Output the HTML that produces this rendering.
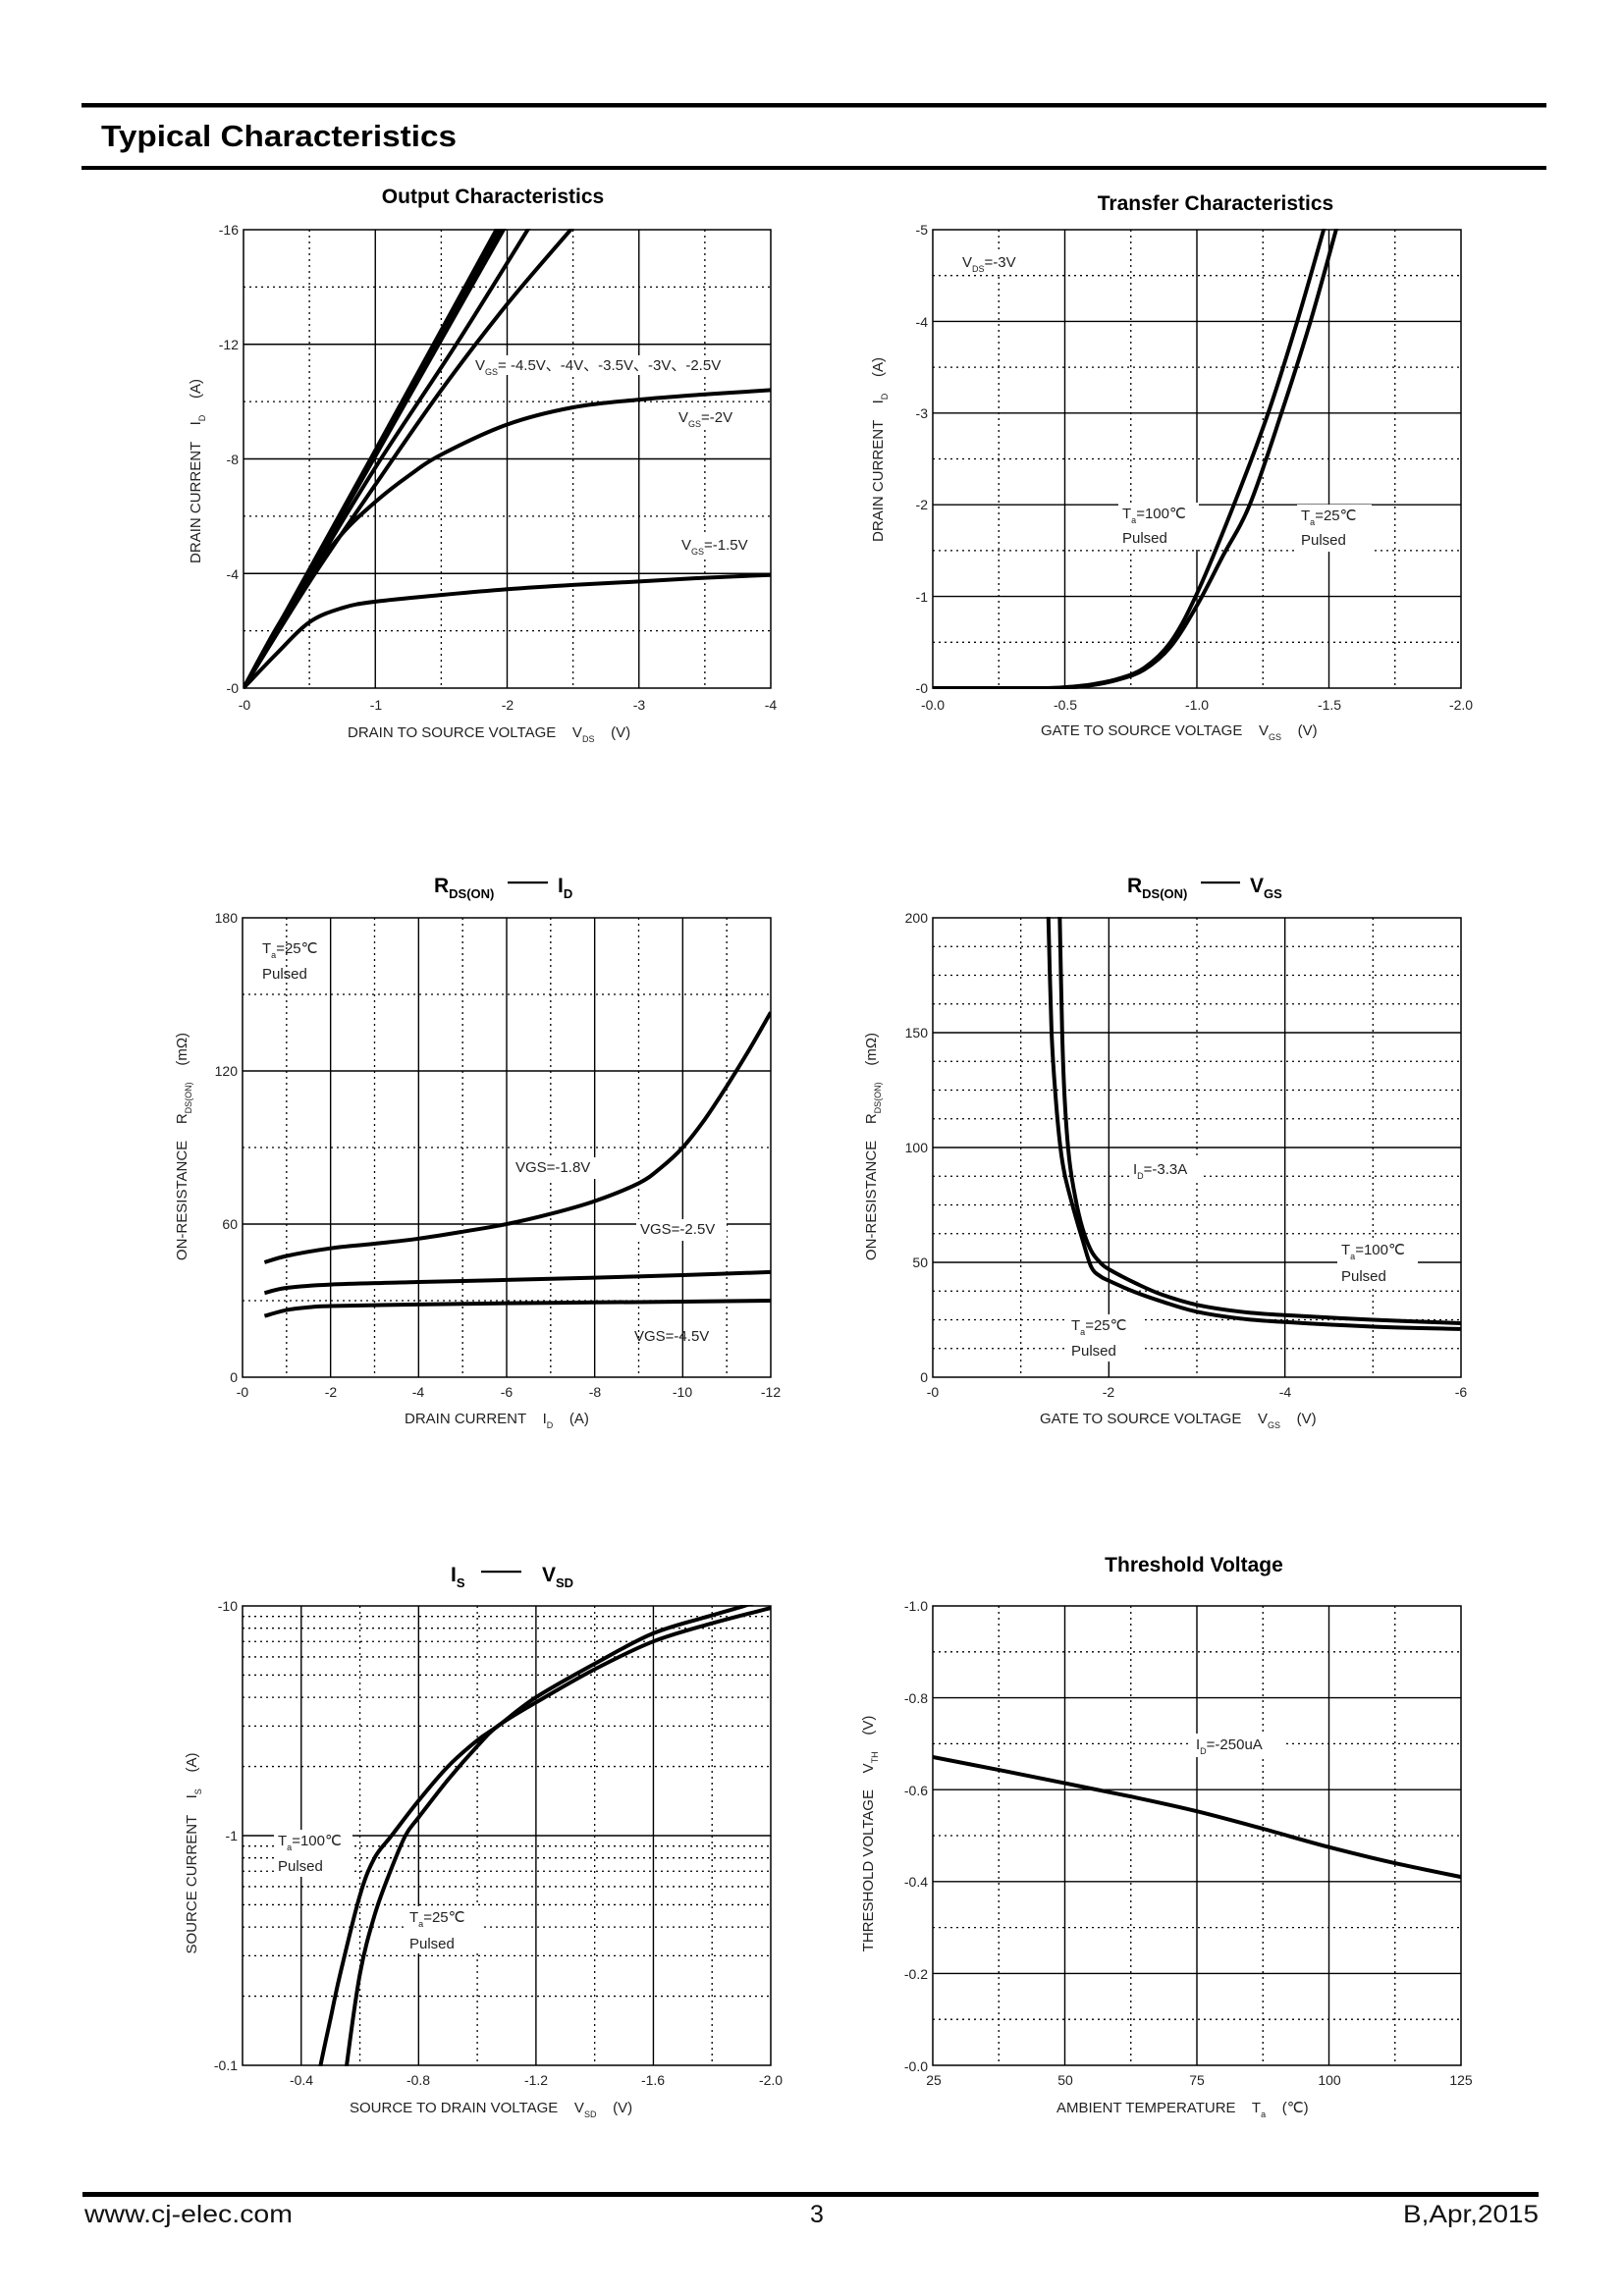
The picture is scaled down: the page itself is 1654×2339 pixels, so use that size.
<!DOCTYPE html>
<html><head><meta charset="utf-8"><style>
html,body{margin:0;padding:0;background:#fff}
svg{display:block}
text{font-family:"Liberation Sans",Arial,sans-serif;fill:#222}
.t{font-size:14px}
.ax{font-size:15px}
.lb{font-size:15px}
.ti{font-size:21px;font-weight:bold;fill:#000}
.sb{font-size:9px}
</style></head><body>
<svg id="s" width="1654" height="2339" viewBox="0 0 1654 2339" xmlns="http://www.w3.org/2000/svg">
<rect width="1654" height="2339" fill="#fff"/>
<rect x="83" y="105" width="1492" height="4.5" fill="#000"/>
<rect x="83" y="169" width="1492" height="4" fill="#000"/>
<text x="103" y="149" style="font-size:31px;font-weight:bold;fill:#000" textLength="362" lengthAdjust="spacingAndGlyphs">Typical Characteristics</text>
<rect x="84" y="2233" width="1483" height="5" fill="#000"/>
<text x="86" y="2264" style="font-size:25px;fill:#111" textLength="212" lengthAdjust="spacingAndGlyphs">www.cj-elec.com</text>
<text x="832" y="2264" style="font-size:25px;fill:#111" text-anchor="middle">3</text>
<text x="1567" y="2264" style="font-size:25px;fill:#111" text-anchor="end" textLength="138" lengthAdjust="spacingAndGlyphs">B,Apr,2015</text>

<g id="grids"></g>
<g id="curves"></g>

<!-- Chart 1 -->
<text class="ti" x="502" y="207" text-anchor="middle">Output Characteristics</text>
<g class="t" text-anchor="end">
<text x="243" y="239">-16</text><text x="243" y="356">-12</text><text x="243" y="473">-8</text><text x="243" y="590">-4</text><text x="243" y="706">-0</text></g>
<g class="t" text-anchor="middle">
<text x="249" y="723">-0</text><text x="383" y="723">-1</text><text x="517" y="723">-2</text><text x="651" y="723">-3</text><text x="785" y="723">-4</text></g>
<text class="ax" x="354" y="751" xml:space="preserve">DRAIN TO SOURCE VOLTAGE    V<tspan class="sb" dy="5">DS</tspan><tspan dy="-5">    (V)</tspan></text>
<text class="ax" transform="rotate(-90 204 480)" x="204" y="480" text-anchor="middle" xml:space="preserve">DRAIN CURRENT    I<tspan class="sb" dy="5">D</tspan><tspan dy="-5">    (A)</tspan></text>
<rect x="480" y="362" width="300" height="20" fill="#fff"/>
<text class="lb" x="484" y="377" xml:space="preserve">V<tspan class="sb" dy="5">GS</tspan><tspan dy="-5">= -4.5V、-4V、-3.5V、-3V、-2.5V</tspan></text>
<rect x="688" y="415" width="72" height="22" fill="#fff"/>
<text class="lb" x="691" y="430">V<tspan class="sb" dy="5">GS</tspan><tspan dy="-5">=-2V</tspan></text>
<rect x="690" y="545" width="86" height="22" fill="#fff"/>
<text class="lb" x="694" y="560">V<tspan class="sb" dy="5">GS</tspan><tspan dy="-5">=-1.5V</tspan></text>

<!-- Chart 2 -->
<text class="ti" x="1238" y="214" text-anchor="middle">Transfer Characteristics</text>
<g class="t" text-anchor="end">
<text x="945" y="239">-5</text><text x="945" y="333">-4</text><text x="945" y="426">-3</text><text x="945" y="519">-2</text><text x="945" y="613">-1</text><text x="945" y="706">-0</text></g>
<g class="t" text-anchor="middle">
<text x="950" y="723">-0.0</text><text x="1085" y="723">-0.5</text><text x="1219" y="723">-1.0</text><text x="1354" y="723">-1.5</text><text x="1488" y="723">-2.0</text></g>
<text class="ax" x="1060" y="749" xml:space="preserve">GATE TO SOURCE VOLTAGE    V<tspan class="sb" dy="5">GS</tspan><tspan dy="-5">    (V)</tspan></text>
<text class="ax" transform="rotate(-90 899 458)" x="899" y="458" text-anchor="middle" xml:space="preserve">DRAIN CURRENT    I<tspan class="sb" dy="5">D</tspan><tspan dy="-5">    (A)</tspan></text>
<rect x="976" y="256" width="66" height="24" fill="#fff"/>
<text class="lb" x="980" y="272">V<tspan class="sb" dy="5">DS</tspan><tspan dy="-5">=-3V</tspan></text>
<rect x="1139" y="512" width="82" height="48" fill="#fff"/>
<text class="lb" x="1143" y="528">T<tspan class="sb" dy="5">a</tspan><tspan dy="-5">=100℃</tspan></text>
<text class="lb" x="1143" y="553">Pulsed</text>
<rect x="1321" y="514" width="76" height="48" fill="#fff"/>
<text class="lb" x="1325" y="530">T<tspan class="sb" dy="5">a</tspan><tspan dy="-5">=25℃</tspan></text>
<text class="lb" x="1325" y="555">Pulsed</text>

<!-- Chart 3 -->
<text class="ti" x="442" y="909">R<tspan style="font-size:13px" dy="6">DS(ON)</tspan></text>
<rect x="517" y="898" width="41" height="2.2" fill="#000"/>
<text class="ti" x="568" y="909">I<tspan style="font-size:13px" dy="6">D</tspan></text>
<g class="t" text-anchor="end">
<text x="242" y="940">180</text><text x="242" y="1096">120</text><text x="242" y="1252">60</text><text x="242" y="1408">0</text></g>
<g class="t" text-anchor="middle">
<text x="247" y="1423">-0</text><text x="337" y="1423">-2</text><text x="426" y="1423">-4</text><text x="516" y="1423">-6</text><text x="606" y="1423">-8</text><text x="695" y="1423">-10</text><text x="785" y="1423">-12</text></g>
<text class="ax" x="412" y="1450" xml:space="preserve">DRAIN CURRENT    I<tspan class="sb" dy="5">D</tspan><tspan dy="-5">    (A)</tspan></text>
<text class="ax" transform="rotate(-90 190 1168)" x="190" y="1168" text-anchor="middle" xml:space="preserve">ON-RESISTANCE    R<tspan class="sb" dy="5">DS(ON)</tspan><tspan dy="-5">    (mΩ)</tspan></text>
<text class="lb" x="267" y="971">T<tspan class="sb" dy="5">a</tspan><tspan dy="-5">=25℃</tspan></text>
<text class="lb" x="267" y="997">Pulsed</text>
<rect x="521" y="1179" width="92" height="22" fill="#fff"/>
<text class="lb" x="525" y="1194">VGS=-1.8V</text>
<rect x="648" y="1242" width="92" height="22" fill="#fff"/>
<text class="lb" x="652" y="1257">VGS=-2.5V</text>
<text class="lb" x="646" y="1366">VGS=-4.5V</text>

<!-- Chart 4 -->
<text class="ti" x="1148" y="909">R<tspan style="font-size:13px" dy="6">DS(ON)</tspan></text>
<rect x="1223" y="898" width="40" height="2.2" fill="#000"/>
<text class="ti" x="1273" y="909">V<tspan style="font-size:13px" dy="6">GS</tspan></text>
<g class="t" text-anchor="end">
<text x="945" y="940">200</text><text x="945" y="1057">150</text><text x="945" y="1174">100</text><text x="945" y="1291">50</text><text x="945" y="1408">0</text></g>
<g class="t" text-anchor="middle">
<text x="950" y="1423">-0</text><text x="1129" y="1423">-2</text><text x="1309" y="1423">-4</text><text x="1488" y="1423">-6</text></g>
<text class="ax" x="1059" y="1450" xml:space="preserve">GATE TO SOURCE VOLTAGE    V<tspan class="sb" dy="5">GS</tspan><tspan dy="-5">    (V)</tspan></text>
<text class="ax" transform="rotate(-90 892 1168)" x="892" y="1168" text-anchor="middle" xml:space="preserve">ON-RESISTANCE    R<tspan class="sb" dy="5">DS(ON)</tspan><tspan dy="-5">    (mΩ)</tspan></text>
<rect x="1150" y="1180" width="76" height="24" fill="#fff"/>
<text class="lb" x="1154" y="1196">I<tspan class="sb" dy="5">D</tspan><tspan dy="-5">=-3.3A</tspan></text>
<rect x="1362" y="1262" width="82" height="50" fill="#fff"/>
<text class="lb" x="1366" y="1278">T<tspan class="sb" dy="5">a</tspan><tspan dy="-5">=100℃</tspan></text>
<text class="lb" x="1366" y="1305">Pulsed</text>
<rect x="1087" y="1339" width="76" height="48" fill="#fff"/>
<text class="lb" x="1091" y="1355">T<tspan class="sb" dy="5">a</tspan><tspan dy="-5">=25℃</tspan></text>
<text class="lb" x="1091" y="1381">Pulsed</text>

<!-- Chart 5 -->
<text class="ti" x="459" y="1611">I<tspan style="font-size:13px" dy="6">S</tspan></text>
<rect x="490" y="1600" width="41" height="2.2" fill="#000"/>
<text class="ti" x="552" y="1611">V<tspan style="font-size:13px" dy="6">SD</tspan></text>
<g class="t" text-anchor="end">
<text x="242" y="1641">-10</text><text x="242" y="1875">-1</text><text x="242" y="2109">-0.1</text></g>
<g class="t" text-anchor="middle">
<text x="307" y="2124">-0.4</text><text x="426" y="2124">-0.8</text><text x="546" y="2124">-1.2</text><text x="665" y="2124">-1.6</text><text x="785" y="2124">-2.0</text></g>
<text class="ax" x="356" y="2152" xml:space="preserve">SOURCE TO DRAIN VOLTAGE    V<tspan class="sb" dy="5">SD</tspan><tspan dy="-5">    (V)</tspan></text>
<text class="ax" transform="rotate(-90 200 1888)" x="200" y="1888" text-anchor="middle" xml:space="preserve">SOURCE CURRENT    I<tspan class="sb" dy="5">S</tspan><tspan dy="-5">    (A)</tspan></text>
<rect x="279" y="1864" width="80" height="48" fill="#fff"/>
<text class="lb" x="283" y="1880">T<tspan class="sb" dy="5">a</tspan><tspan dy="-5">=100℃</tspan></text>
<text class="lb" x="283" y="1906">Pulsed</text>
<rect x="413" y="1942" width="76" height="48" fill="#fff"/>
<text class="lb" x="417" y="1958">T<tspan class="sb" dy="5">a</tspan><tspan dy="-5">=25℃</tspan></text>
<text class="lb" x="417" y="1985">Pulsed</text>

<!-- Chart 6 -->
<text class="ti" x="1216" y="1601" text-anchor="middle">Threshold Voltage</text>
<g class="t" text-anchor="end">
<text x="945" y="1641">-1.0</text><text x="945" y="1735">-0.8</text><text x="945" y="1829">-0.6</text><text x="945" y="1922">-0.4</text><text x="945" y="2016">-0.2</text><text x="945" y="2110">-0.0</text></g>
<g class="t" text-anchor="middle">
<text x="951" y="2124">25</text><text x="1085" y="2124">50</text><text x="1219" y="2124">75</text><text x="1354" y="2124">100</text><text x="1488" y="2124">125</text></g>
<text class="ax" x="1076" y="2152" xml:space="preserve">AMBIENT TEMPERATURE    T<tspan class="sb" dy="5">a</tspan><tspan dy="-5">    (℃)</tspan></text>
<text class="ax" transform="rotate(-90 889 1868)" x="889" y="1868" text-anchor="middle" xml:space="preserve">THRESHOLD VOLTAGE    V<tspan class="sb" dy="5">TH</tspan><tspan dy="-5">    (V)</tspan></text>
<rect x="1214" y="1766" width="92" height="24" fill="#fff"/>
<text class="lb" x="1218" y="1782">I<tspan class="sb" dy="5">D</tspan><tspan dy="-5">=-250uA</tspan></text>
</svg>
<script>
(function(){
var NS="http://www.w3.org/2000/svg";
var G=document.getElementById("grids"),C=document.getElementById("curves");
function el(p,tag,a){var e=document.createElementNS(NS,tag);for(var k in a)e.setAttribute(k,a[k]);p.appendChild(e);return e;}
function line(x1,y1,x2,y2,dot){el(G,"line",{x1:x1,y1:y1,x2:x2,y2:y2,stroke:"#000","stroke-width":dot?1.3:1.4,"stroke-dasharray":dot?"2,4":"none"});}
function plot(o){
 o.xs.forEach(function(a){var x=o.l+(o.r-o.l)*a[0];line(x,o.t,x,o.b,a[1]);});
 o.ys.forEach(function(a){var y=o.b-(o.b-o.t)*a[0];line(o.l,y,o.r,y,a[1]);});
 el(G,"rect",{x:o.l,y:o.t,width:o.r-o.l,height:o.b-o.t,fill:"none",stroke:"#000","stroke-width":1.5});
}
function reg(n,dotOdd){var a=[];for(var i=1;i<n;i++)a.push([i/n,dotOdd?(i%2==1):false]);return a;}
function path(pts,fx,fy,clip){
 var P=pts.map(function(p){return [fx(p[0]),fy(p[1])];});
 var d="M"+P[0][0]+","+P[0][1];
 for(var i=0;i<P.length-1;i++){
  var p0=P[i-1]||P[i],p1=P[i],p2=P[i+1],p3=P[i+2]||p2;
  var c1=[p1[0]+(p2[0]-p0[0])/6,p1[1]+(p2[1]-p0[1])/6],c2=[p2[0]-(p3[0]-p1[0])/6,p2[1]-(p3[1]-p1[1])/6];
  d+="C"+c1[0].toFixed(1)+","+c1[1].toFixed(1)+" "+c2[0].toFixed(1)+","+c2[1].toFixed(1)+" "+p2[0].toFixed(1)+","+p2[1].toFixed(1);
 }
 el(C,"path",{d:d,fill:"none",stroke:"#000","stroke-width":4,"stroke-linejoin":"round","clip-path":clip});
}
var defs=el(document.getElementById("s"),"defs",{});
function clip(id,l,t,r,b){var c=el(defs,"clipPath",{id:id});el(c,"rect",{x:l,y:t-1,width:r-l,height:b-t+2});return "url(#"+id+")";}

var L=248,R=785,T=234,B=701;
plot({l:L,r:R,t:T,b:B,xs:reg(8,true),ys:reg(8,true)});
var c1=clip("c1",L,T,R,B);
var fx=function(v){return L+v*(R-L)/4},fy=function(i){return B-i*(B-T)/16};
[[[0,0],[0.25,1.2],[0.5,2.3],[0.75,2.8],[1,3.02],[1.5,3.25],[2,3.45],[2.5,3.6],[3,3.72],[3.5,3.85],[4,3.95]],
 [[0,0],[0.25,2.1],[0.5,3.9],[0.75,5.4],[1,6.5],[1.25,7.4],[1.5,8.15],[2,9.2],[2.5,9.8],[3,10.07],[3.5,10.25],[4,10.4]],
 [[0,0],[0.5,3.7],[1,7.1],[1.5,10.4],[2,13.4],[2.52,16.2]],
 [[0,0],[0.5,3.9],[1,7.7],[1.6,11.9],[2.17,16.1]],
 [[0,0],[1,8.1],[1.985,16.1]],[[0,0],[1,8.2],[1.955,16.1]],[[0,0],[1,8.3],[1.93,16.1]]
].forEach(function(p){path(p,fx,fy,c1);});

L=950;R=1488;
plot({l:L,r:R,t:T,b:B,xs:reg(8,true),ys:reg(10,true)});
var c2=clip("c2",L,T,R,B);
fx=function(v){return L+v*(R-L)/2};fy=function(i){return B-i*(B-T)/5};
path([[0,0],[0.4,0],[0.5,0.01],[0.6,0.04],[0.7,0.1],[0.8,0.22],[0.9,0.5],[1.0,1.03],[1.14,2],[1.27,3],[1.38,4],[1.48,5],[1.5,5.2]],fx,fy,c2);
path([[0,0],[0.4,0],[0.5,0.005],[0.6,0.03],[0.7,0.09],[0.8,0.2],[0.9,0.45],[1.0,0.9],[1.1,1.45],[1.2,2],[1.32,3],[1.43,4],[1.527,5],[1.55,5.25]],fx,fy,c2);

L=247;R=785;T=935;B=1403;
plot({l:L,r:R,t:T,b:B,xs:reg(12,true),ys:reg(6,true)});
var c3=clip("c3",L,T,R,B);
fx=function(v){return L+v*(R-L)/12};fy=function(i){return B-i*(B-T)/180};
path([[0.5,45],[1,47.5],[2,50.5],[3,52.3],[4,54.3],[5,57],[6,60],[7,64],[8,69],[9,76],[9.5,82],[10,90],[10.5,101],[11,114],[11.5,128],[12,143]],fx,fy,c3);
path([[0.5,33],[1,35],[2,36.3],[4,37.3],[6,38.1],[8,39],[10,40],[12,41.2]],fx,fy,c3);
path([[0.5,24],[1,26.3],[1.5,27.4],[2,27.9],[4,28.5],[6,29],[8,29.3],[10,29.6],[12,30]],fx,fy,c3);

L=950;R=1488;
plot({l:L,r:R,t:T,b:B,xs:reg(6,true),ys:reg(16,false).map(function(a,i){return [a[0],(i+1)%4!=0];})});
var c4=clip("c4",L,T,R,B);
fx=function(v){return L+v*(R-L)/6};fy=function(i){return B-i*(B-T)/200};
path([[1.44,205],[1.47,150],[1.5,120],[1.55,95],[1.62,78],[1.7,65],[1.8,55],[1.9,50],[2,47],[2.3,41],[2.6,36],[3,31.5],[3.5,28.5],[4,27],[5,25],[6,23.5]],fx,fy,c4);
path([[1.31,205],[1.35,150],[1.4,120],[1.45,100],[1.5,88],[1.6,73],[1.7,60],[1.8,48],[1.9,44],[2,42],[2.3,37],[2.6,33],[3,28.5],[3.5,25.5],[4,24],[5,22],[6,21]],fx,fy,c4);

L=247;R=785;T=1636;B=2104;
var xs5=[];for(var i=1;i<9;i++)xs5.push([i/9,i%2==0]);
var ys5=[];[0,1].forEach(function(d){for(var m=2;m<=10;m++){ys5.push([(d+Math.log10(m))/2,m!=10]);}});
ys5.pop();
plot({l:L,r:R,t:T,b:B,xs:xs5,ys:ys5});
var c5=clip("c5",L,T,R,B);
fx=function(v){return L+(v-0.2)*(R-L)/1.8};fy=function(i){return B-(Math.log10(i)+1)*(B-T)/2};
path([[0.45,0.075],[0.466,0.1],[0.5,0.16],[0.533,0.25],[0.6,0.55],[0.65,0.8],[0.708,1],[0.8,1.42],[0.9,2.0],[1.0,2.6],[1.07,3.0],[1.2,4.0],[1.4,5.6],[1.6,7.6],[1.8,9.1],[1.91,10],[1.95,10.4]],fx,fy,c5);
path([[0.545,0.075],[0.555,0.1],[0.6,0.25],[0.65,0.45],[0.7,0.68],[0.755,1],[0.8,1.2],[0.9,1.75],[1.0,2.45],[1.07,3.0],[1.2,3.8],[1.4,5.3],[1.6,7.0],[1.8,8.4],[2.0,9.8]],fx,fy,c5);

L=950;R=1488;
plot({l:L,r:R,t:T,b:B,xs:reg(8,true),ys:reg(10,true)});
var c6=clip("c6",L,T,R,B);
fx=function(v){return L+(v-25)*(R-L)/100};fy=function(i){return B-i*(B-T)};
path([[25,0.671],[37.5,0.643],[50,0.614],[62.5,0.585],[75,0.553],[87.5,0.515],[100,0.475],[112.5,0.44],[125,0.41]],fx,fy,c6);
})();
</script>
</body></html>
